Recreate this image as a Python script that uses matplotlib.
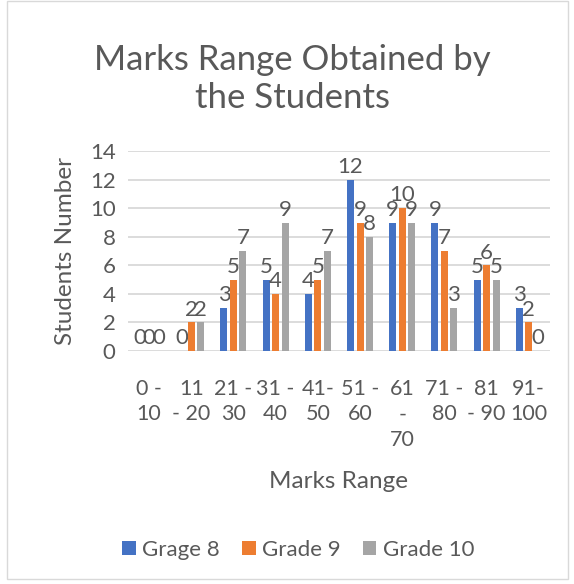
import matplotlib.pyplot as plt
import numpy as np
from matplotlib.patches import Rectangle

categories = ["0 -\n10", "11\n- 20", "21 -\n30", "31 -\n40", "41-\n50",
              "51 -\n60", "61\n-\n70", "71 -\n80", "81\n- 90", "91-\n100"]
grade8 = [0, 0, 3, 5, 4, 12, 9, 9, 5, 3]
grade9 = [0, 2, 5, 4, 5, 9, 10, 7, 6, 2]
grade10 = [0, 2, 7, 9, 7, 8, 9, 3, 5, 0]
series_names = ["Grage 8", "Grade 9", "Grade 10"]
colors = ["#4472C4", "#ED7D31", "#A5A5A5"]

plt.rcParams['font.family'] = ['Lato', 'DejaVu Sans']
txt = "#595959"
fs = 16

fig = plt.figure(figsize=(5.74, 5.84), dpi=100)
fig.patches.append(Rectangle((0.012, 0.008), 0.978, 0.99, transform=fig.transFigure,
                             fill=False, edgecolor="#D9D9D9", linewidth=1))
ax = fig.add_axes([0.223, 0.399, 0.735, 0.342])

x = np.arange(len(categories))
w = 0.166
pitch = 0.225
for k, (vals, name, c) in enumerate(zip([grade8, grade9, grade10], series_names, colors)):
    pos = x + (k - 1) * pitch
    ax.bar(pos, vals, width=w, color=c, label=name, zorder=3)
    for p, v in zip(pos, vals):
        ax.text(p, v + 0.2, str(v), ha='center', va='bottom', fontsize=fs, color=txt)

ax.set_xlim(-0.5, len(categories) - 0.5)
ax.set_ylim(0, 14)
ax.set_yticks(range(0, 15, 2))
ax.set_xticks(x)
ax.set_xticklabels(categories, fontsize=15.5, color=txt, linespacing=1.35)
ax.tick_params(axis='y', labelsize=fs, labelcolor=txt, length=0, pad=9)
ax.tick_params(axis='x', length=0, pad=20)
ax.grid(axis='y', color="#D9D9D9", linewidth=1.3, zorder=0)
for s in ax.spines.values():
    s.set_visible(False)

ax.set_ylabel("Students Number", fontsize=17.5, color=txt, labelpad=10)
fig.text(0.59, 0.176, "Marks Range", ha='center', va='center', fontsize=17.5, color=txt)
fig.text(0.51, 0.865, "Marks Range Obtained by\nthe Students", ha='center', va='center',
         fontsize=25, color=txt, linespacing=1.25)

fig.legend(loc='center', bbox_to_anchor=(0.52, 0.058), ncol=3, frameon=False,
           fontsize=fs, labelcolor=txt, handlelength=0.6, handleheight=0.6,
           handletextpad=0.3, columnspacing=1.0)

fig.savefig("out.png", dpi=100)
